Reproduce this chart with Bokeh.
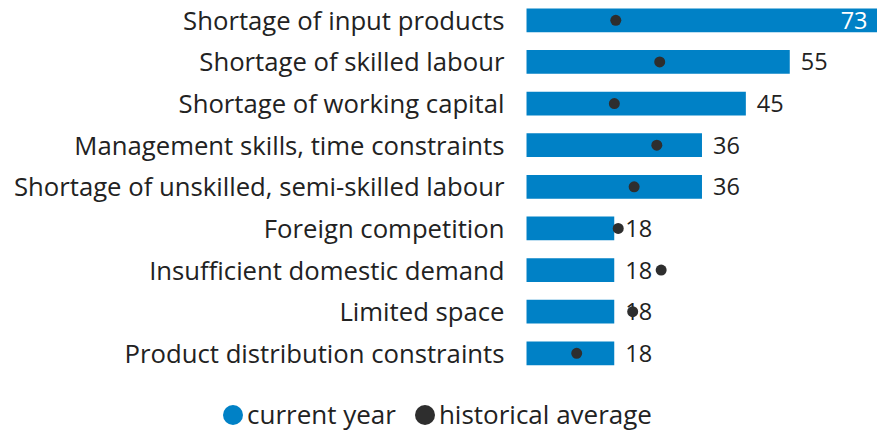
from bokeh.plotting import figure
from bokeh.models import ColumnDataSource, Range1d, Legend, LegendItem
from bokeh.core.properties import value
from bokeh.embed import file_html
from bokeh.resources import INLINE

categories = [
    "Shortage of input products",
    "Shortage of skilled labour",
    "Shortage of working capital",
    "Management skills, time constraints",
    "Shortage of unskilled, semi-skilled labour",
    "Foreign competition",
    "Insufficient domestic demand",
    "Limited space",
    "Product distribution constraints",
]
current_year = [72.73, 54.55, 45.45, 36.36, 36.36, 18.18, 18.18, 18.18, 18.18]
historical_average = [18.5, 27.6, 18.2, 27.0, 22.3, 19.0, 27.9, 22.0, 10.4]

BAR = "#0081C6"
DOT = "#2E2E2E"
TXT = "#222222"
FONT = "Open Sans"

ypos = list(range(len(categories)))
labels = [str(round(v)) for v in current_year]
inside = [v >= 60 for v in current_year]

src = ColumnDataSource(dict(y=ypos, cat=categories, cur=current_year,
                            hist=historical_average, lab=labels,
                            zero=[0] * len(categories)))
src_in = ColumnDataSource(dict(
    y=[y for y, f in zip(ypos, inside) if f],
    cur=[v for v, f in zip(current_year, inside) if f],
    lab=[l for l, f in zip(labels, inside) if f]))
src_out = ColumnDataSource(dict(
    y=[y for y, f in zip(ypos, inside) if not f],
    cur=[v for v, f in zip(current_year, inside) if not f],
    lab=[l for l, f in zip(labels, inside) if not f]))

p = figure(width=877, height=433, output_backend="svg", toolbar_location=None,
           x_axis_location=None, y_axis_location=None,
           x_range=Range1d(-109.0, 72.73), y_range=Range1d(9.927, -0.4757),
           min_border=0, min_border_left=0, min_border_right=0,
           min_border_top=0, min_border_bottom=0)
p.outline_line_color = None
p.xgrid.visible = False
p.ygrid.visible = False
p.background_fill_color = "white"
p.border_fill_color = "white"

p.hbar(y="y", left=0, right="cur", height=0.57, source=src,
       fill_color=BAR, line_color=None)

p.text(x="zero", y="y", text="cat", source=src, x_offset=-22,
       text_align="right", text_baseline="middle", text_color=TXT,
       text_font=value(FONT), text_font_size="25.7px")

p.text(x="cur", y="y", text="lab", source=src_out, x_offset=11,
       text_align="left", text_baseline="middle", text_color=TXT,
       text_font=value(FONT), text_font_size="23.5px")
p.text(x="cur", y="y", text="lab", source=src_in, x_offset=-10,
       text_align="right", text_baseline="middle", text_color="white",
       text_font=value(FONT), text_font_size="23.5px")

dots = p.scatter(x="hist", y="y", source=src, size=11, marker="circle",
                 fill_color=DOT, line_color=None)

nan = float("nan")
leg_cur = p.ellipse(x=[nan], y=[nan], width=20, height=20,
                    width_units="screen", height_units="screen",
                    fill_color=BAR, line_color=None)
leg_hist = p.ellipse(x=[nan], y=[nan], width=20, height=20,
                     width_units="screen", height_units="screen",
                     fill_color=DOT, line_color=None)

legend = Legend(items=[LegendItem(label="current year", renderers=[leg_cur]),
                       LegendItem(label="historical average", renderers=[leg_hist])],
                orientation="horizontal", location=(220, 1),
                glyph_width=25, glyph_height=25, label_height=24,
                label_standoff=2, spacing=16, padding=0, margin=0,
                border_line_color=None, background_fill_alpha=0,
                label_text_font=FONT, label_text_font_size="26px",
                label_text_color=TXT)
p.add_layout(legend)

open("out.html", "w").write(file_html(p, INLINE))
